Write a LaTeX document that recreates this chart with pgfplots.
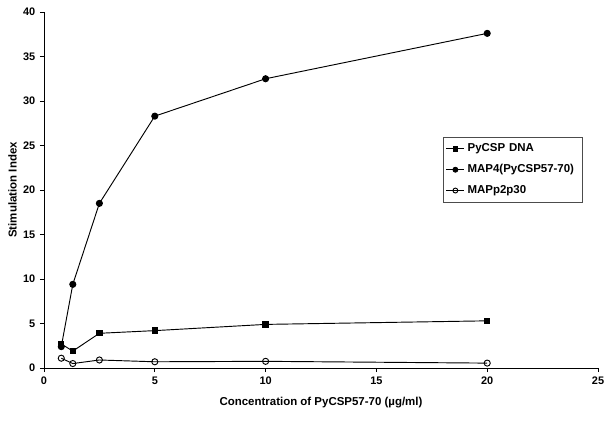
\documentclass[border=0pt]{standalone}
\usepackage{pgfplots}
\pgfplotsset{compat=1.18}
\usepackage{fontspec}
\setmainfont{Liberation Sans}
\begin{document}
\begin{tikzpicture}
\begin{axis}[at={(0,0)},anchor=south west,scale only axis,
  width=415.5pt,height=267pt,
  xmin=0,xmax=25,ymin=0,ymax=40,
  xtick={0,5,...,25},ytick={0,5,...,40},
  axis lines=left,axis line style={-,black,line width=0.6pt},
  tick align=outside,major tick length=3pt,
  tick style={black,line width=0.6pt},
  /pgf/number format/assume math mode=true,
  tick label style={font=\fontsize{8.2}{10}\selectfont\bfseries},
  label style={font=\fontsize{8.6}{10}\selectfont\bfseries},
  xlabel={Concentration of PyCSP57-70 (µg/ml)},
  ylabel={Stimulation Index},
  xlabel style={yshift=-3pt},
  ylabel style={yshift=-2pt},
  legend style={at={(0.72,0.649)},anchor=north west,draw=black!70,
    font=\fontsize{8.6}{10}\selectfont\bfseries,
    row sep=4pt,inner xsep=2pt,inner ysep=3pt,
    text width=82pt,cells={anchor=west}},
  legend image post style={scale=0.8},
  every axis plot/.append style={black,line width=0.7pt,mark size=2.3pt}]
\addplot[mark=square*,mark size=2pt] coordinates {(0.78,2.7) (1.3,1.9) (2.5,3.9) (5,4.2) (10,4.9) (20,5.3)};
\addplot[mark=*] coordinates {(0.78,2.4) (1.3,9.4) (2.5,18.5) (5,28.3) (10,32.5) (20,37.6)};
\addplot[mark=o,mark options={fill=white}] coordinates {(0.78,1.1) (1.3,0.5) (2.5,0.9) (5,0.7) (10,0.75) (20,0.55)};
\legend{PyCSP DNA,MAP4(PyCSP57-70),MAPp2p30}
\end{axis}
\pgfresetboundingbox
\path[use as bounding box] (-33pt,-40.5pt) rectangle (426.75pt,276pt);
\end{tikzpicture}
\end{document}
